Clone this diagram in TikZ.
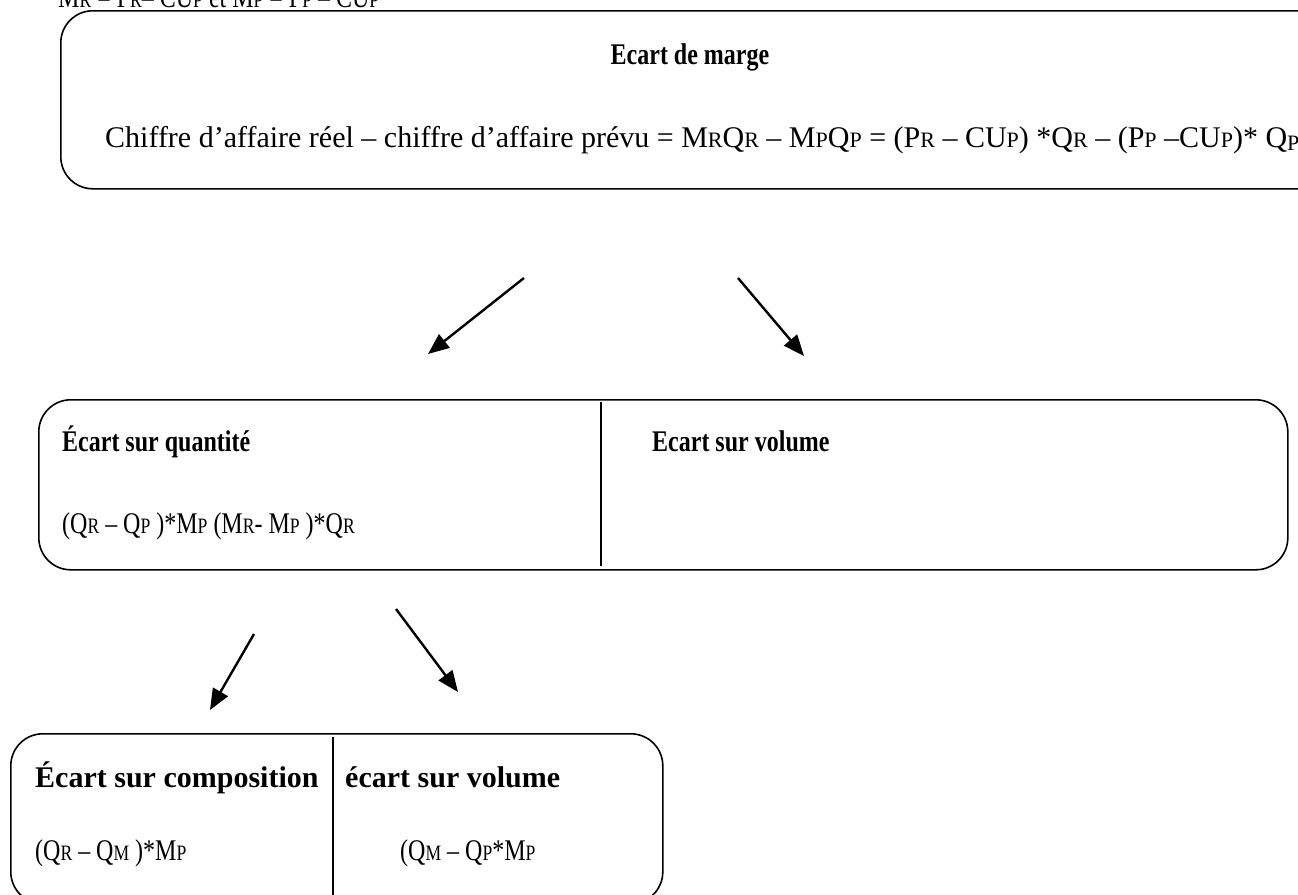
\documentclass[tikz,border=0pt]{standalone}
\usepackage{fontspec}
\setmainfont{Liberation Serif}
\newfontfamily\cnd[FakeStretch=0.8]{Liberation Serif}
\usetikzlibrary{arrows.meta}
\newcommand\lo[1]{{\fontsize{22}{22}\selectfont #1}}
\begin{document}
\begin{tikzpicture}[x=1pt,y=-1pt,
  box/.style={draw, line width=1.6pt, rounded corners=32pt, minimum width=#1, inner sep=0pt, anchor=north west},
  sep/.style={line width=1.1pt},
  arr/.style={line width=2.4pt, -{Triangle[length=21pt,width=17pt]}},
  txt/.style={inner sep=0pt, anchor=base west, font=\fontsize{30}{34}\cnd},
  big/.style={inner sep=0pt, anchor=base west, font=\fontsize{30}{34}\selectfont},
  ttl/.style={inner sep=0pt, anchor=base west, font=\fontsize{30}{34}\cnd\bfseries},
  bigttl/.style={inner sep=0pt, anchor=base west, font=\fontsize{30}{34}\selectfont\bfseries}]
\useasboundingbox (0,0) rectangle (1298,894);
\clip (0,0) rectangle (1298,894);
% cut-off text at top
\node[txt] (pre) at (58,7) {M\lo{R} = P\lo{R}– CU\lo{P} et M\lo{P} = P\lo{P} – CU\lo{P}};
% top box
\node[box=1270pt, minimum height=178pt] (top) at (60,10) {};
\node[ttl, anchor=base] (ttop) at (690,64) {Ecart de marge};
\node[big] (ftop) at (105,147) {Chiffre d’affaire réel – chiffre d’affaire prévu = M\lo{R}Q\lo{R} – M\lo{P}Q\lo{P} = (P\lo{R} – CU\lo{P}) *Q\lo{R} – (P\lo{P} –CU\lo{P})* Q\raisebox{-3pt}{\lo{P}}};
% middle box
\node[box=1249pt, minimum height=170pt] (mid) at (38,399) {};
\coordinate (mds) at (601,402);
\coordinate (mde) at (601,566);
\draw[sep] (mds) -- (mde);
\node[ttl] (tq) at (62,451) {Écart sur quantité};
\node[txt] (fq) at (62,533) {(Q\lo{R} – Q\lo{P} )*M\lo{P} (M\lo{R}- M\lo{P} )*Q\lo{R}};
\node[ttl] (tv) at (652,451) {Ecart sur volume};
% bottom box
\node[box=652pt, minimum height=170pt] (bot) at (10,733) {};
\coordinate (bds) at (333,737);
\coordinate (bde) at (333,900);
\draw[sep] (bds) -- (bde);
\node[bigttl] (tc) at (35,787) {Écart sur composition};
\node[txt] (fc) at (35,860) {(Q\lo{R} – Q\lo{M} )*M\lo{P}};
\node[bigttl] (tv2) at (345,787) {écart sur volume};
\node[txt] (fv2) at (400,860) {(Q\lo{M} – Q\lo{P}*M\lo{P}};
% arrows
\coordinate (a1s) at (524,278); \coordinate (a1e) at (428,354);
\coordinate (a2s) at (738,278); \coordinate (a2e) at (804,356);
\coordinate (a3s) at (254,634); \coordinate (a3e) at (210,710);
\coordinate (a4s) at (396,609); \coordinate (a4e) at (458,692);
\draw[arr] (a1s) -- (a1e);
\draw[arr] (a2s) -- (a2e);
\draw[arr] (a3s) -- (a3e);
\draw[arr] (a4s) -- (a4e);
\end{tikzpicture}
\end{document}
